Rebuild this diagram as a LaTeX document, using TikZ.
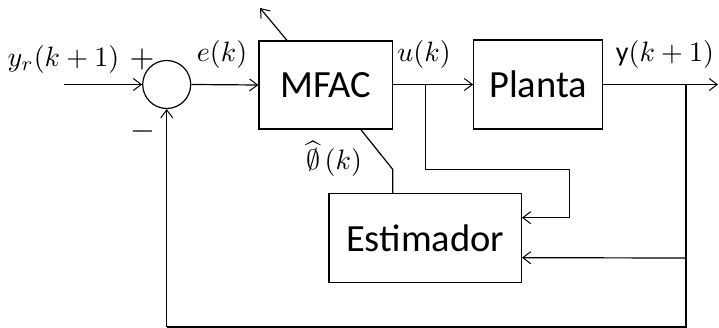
\documentclass[tikz,border=0pt]{standalone}
\usepackage{amsmath}
\usepackage[no-math]{fontspec}
\newfontfamily\calib{Carlito}
\usetikzlibrary{arrows.meta,calc}
\begin{document}
\begin{tikzpicture}[x=1pt,y=-1pt,line width=1.2pt,
  >={Straight Barb[length=8pt,width=12pt,line width=1pt]},
  blk/.style={draw,rectangle,inner sep=0pt,font=\calib\fontsize{38.5}{40}\selectfont},
  sumnode/.style={draw,circle,inner sep=0pt,minimum size=48pt},
  lab/.style={inner sep=0pt,anchor=base,scale=2.8},
  sgn/.style={inner sep=0pt,scale=3.2}]
\useasboundingbox (0,0) rectangle (719,328);
% blocks
\node[sumnode] (s) at (166.7,84.5) {};
\node[blk,minimum width=133.7pt,minimum height=88pt] (mfac) at (325.8,85) {MFAC};
\node[blk,minimum width=129pt,minimum height=89pt] (planta) at (538.2,84.5) {Planta};
\node[blk,minimum width=192.3pt,minimum height=88.6pt] (estim) at (425.2,238) {Estimador};
% coordinates
\coordinate (in) at (64,84.5);
\coordinate (out) at (718,84.5);
\coordinate (ub) at (425.3,84.5);
\coordinate (u2) at (569.3,169.3);
\coordinate (yb) at (686,84.5);
\coordinate (yl) at (686,258);
\coordinate (yc) at (686,327);
\coordinate (lc) at (166.7,327);
\coordinate (ph1) at (392.7,169.3);
\coordinate (adapt) at (260,8);
% connectors
\draw[->] (in) -- (s.west);
\draw[->] (s.east) -- (mfac.west);
\draw[->] (mfac.east |- ub) -- (planta.west);
\draw[->] (planta.east) -- (out);
\draw[->] (ub) |- (u2) |- ([yshift=20.3pt]estim.east);
\draw (yb) -- (yc) -- (lc);
\draw[->] (lc) -- (s.south);
\draw[->] (yl) -- ([yshift=-19.7pt]estim.east);
\draw ([xshift=35pt]mfac.south) -- (ph1) -- (ph1 |- estim.north);
\draw[->] ([xshift=-38.8pt]mfac.north) -- (adapt);
% labels
\node[lab] (lyr) at (63.5,66.5) {$y_r(k+1)$};
\node[sgn] (plus) at (142,60) {$+$};
\node[sgn] (minus) at (142.7,131.7) {$-$};
\node[lab] (le) at (222,61.5) {$e(k)$};
\node[lab] (lu) at (424,61.5) {$u(k)$};
\node[lab] (ly) at (665,61.5) {{\calib y}$(k+1)$};
\node[lab] (lph) at (334,170) {$\widehat{\emptyset}\,(k)$};
\end{tikzpicture}
\end{document}
